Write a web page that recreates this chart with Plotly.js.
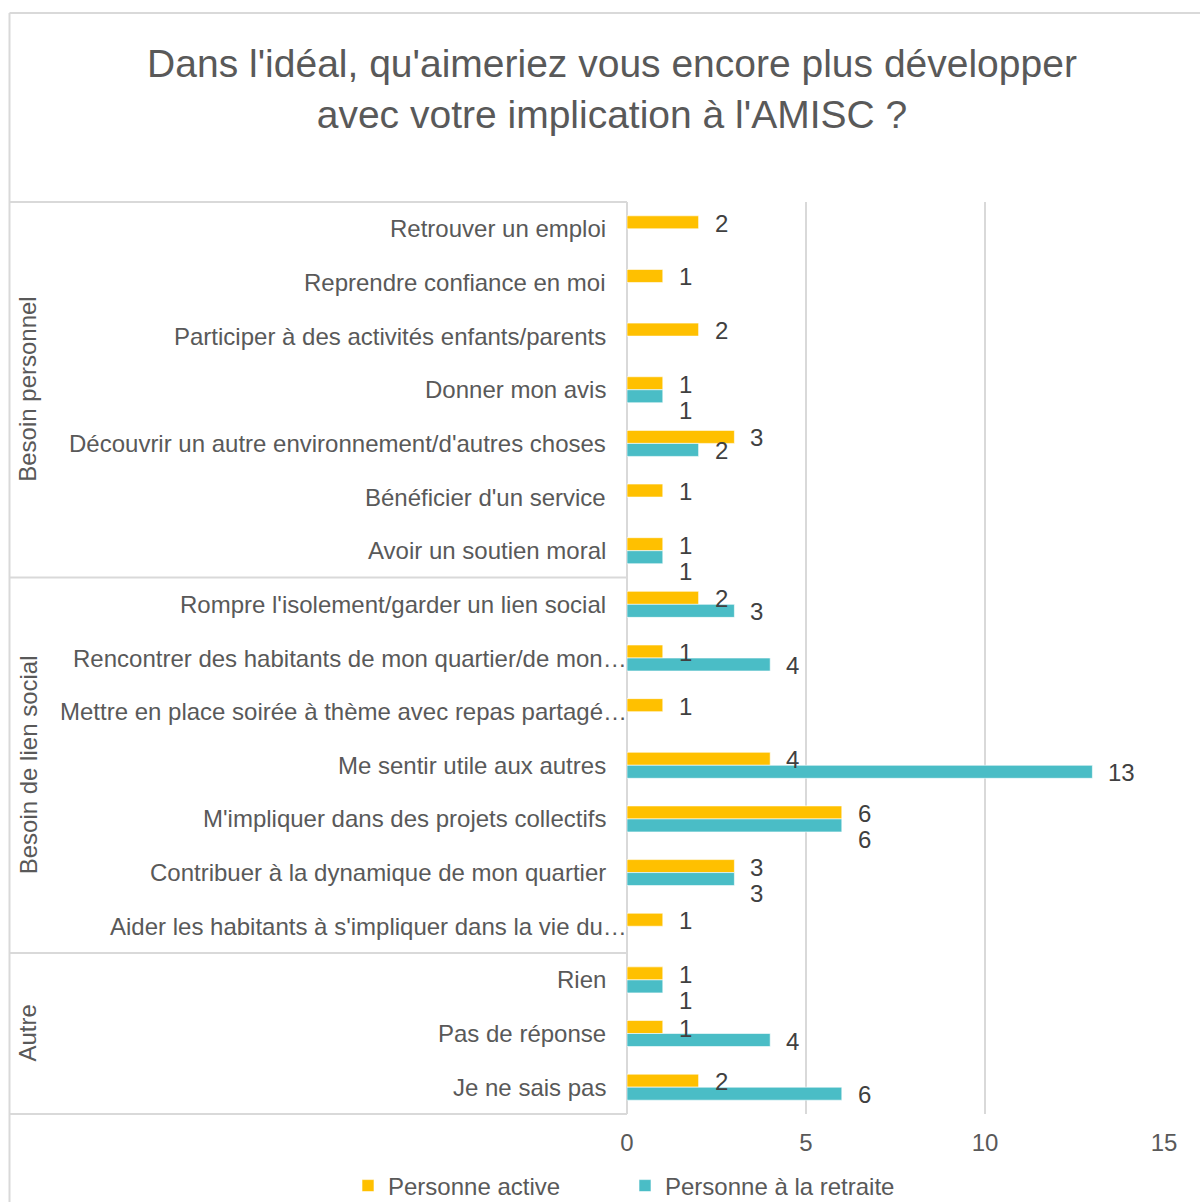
<!DOCTYPE html>
<html>
<head>
<meta charset="utf-8">
<script src="https://cdn.plot.ly/plotly-3.0.1.min.js"></script>
<style>html,body{margin:0;padding:0;background:#fff;}#chart{width:1200px;height:1202px;}</style>
</head>
<body>
<div id="chart"></div>
<script>
const titleText = "Dans l'idéal, qu'aimeriez vous encore plus développer<br>avec votre implication à l'AMISC ?";
const categories = [
  "Retrouver un emploi",
  "Reprendre confiance en moi",
  "Participer à des activités enfants/parents",
  "Donner mon avis",
  "Découvrir un autre environnement/d'autres choses",
  "Bénéficier d'un service",
  "Avoir un soutien moral",
  "Rompre l'isolement/garder un lien social",
  "Rencontrer des habitants de mon quartier/de mon…",
  "Mettre en place soirée à thème avec repas partagé…",
  "Me sentir utile aux autres",
  "M'impliquer dans des projets collectifs",
  "Contribuer à la dynamique de mon quartier",
  "Aider les habitants à s'impliquer dans la vie du…",
  "Rien",
  "Pas de réponse",
  "Je ne sais pas"
];
const groups = ["Besoin personnel", "Besoin de lien social", "Autre"];
const groupSizes = [7, 7, 3];
const seriesNames = ["Personne active", "Personne à la retraite"];
const active   = [2, 1, 2, 1, 3, 1, 1, 2, 1, 1, 4, 6, 3, 1, 1, 1, 2];
const retraite = [null, null, null, 1, 2, null, 1, 3, 4, null, 13, 6, 3, null, 1, 4, 6];
const xTicks = [0, 5, 10, 15];

const FONT = "Liberation Sans, Arial, sans-serif";
const GREY = "#595959";
const LINE = "#d9d9d9";
const FS = 24;
const N = categories.length;

const traces = [
  {type: "bar", orientation: "h", name: seriesNames[0], y: categories, x: active,
   marker: {color: "#FFC000", line: {color: "#ffffff", width: 0.6}}},
  {type: "bar", orientation: "h", name: seriesNames[1], y: categories, x: retraite,
   marker: {color: "#4ABDC6", line: {color: "#ffffff", width: 0.6}}}
];

const annotations = [];
categories.forEach((c, i) => {
  // category label (truncated labels run up to the axis, as in the original)
  annotations.push({xref: "paper", yref: "y", x: 0, y: c, text: c, showarrow: false,
    xanchor: "right", yanchor: "middle", xshift: c.endsWith("…") ? 2 : -19, yshift: 0,
    font: {family: FONT, size: FS, color: GREY}});
  if (active[i] != null) {
    annotations.push({xref: "x", yref: "y", x: active[i], y: c, text: String(active[i]),
      showarrow: false, xanchor: "left", xshift: 14, yshift: 5.5,
      font: {family: FONT, size: FS, color: "#404040"}});
  }
  if (retraite[i] != null) {
    const same = active[i] === retraite[i];
    annotations.push({xref: "x", yref: "y", x: retraite[i], y: c, text: String(retraite[i]),
      showarrow: false, xanchor: "left", xshift: 14, yshift: same ? -21 : -7.5,
      font: {family: FONT, size: FS, color: "#404040"}});
  }
});

// plot area geometry (px) for paper conversions
const L = 627, R = 1164, T = 202, B = 1114;
const pw = R - L, ph = B - T;
const px2x = p => (p - L) / pw;
const px2y = p => (B - p) / ph;
const idx2y = v => (N - 0.5 - v) / N;

const shapes = [];
// frame
shapes.push({type: "line", xref: "paper", yref: "paper", x0: px2x(9.5), x1: px2x(1200), y0: px2y(13), y1: px2y(13), line: {color: LINE, width: 2}});
shapes.push({type: "line", xref: "paper", yref: "paper", x0: px2x(9.5), x1: px2x(9.5), y0: px2y(13), y1: px2y(1202), line: {color: LINE, width: 2}});
// group separators and labels
let start = 0;
const bounds = [-0.5];
groupSizes.forEach((s, g) => {
  const end = start + s;
  bounds.push(end - 0.5);
  annotations.push({xref: "paper", yref: "paper", x: px2x(28), y: idx2y((start + end - 1) / 2),
    text: groups[g], textangle: -90, showarrow: false, xanchor: "center", yanchor: "middle",
    font: {family: FONT, size: FS, color: GREY}});
  start = end;
});
bounds.forEach(b => {
  shapes.push({type: "line", xref: "paper", yref: "paper", x0: px2x(10), x1: 0,
    y0: idx2y(b), y1: idx2y(b), line: {color: LINE, width: 2}});
});

const layout = {
  width: 1200, height: 1202,
  margin: {l: L, r: 1200 - R, t: T, b: 1202 - B, pad: 0, autoexpand: false},
  paper_bgcolor: "#ffffff", plot_bgcolor: "#ffffff",
  font: {family: FONT, color: GREY, size: FS},
  title: {text: titleText, xref: "container", yref: "container", x: 0.51, xanchor: "center",
          y: 0.936, yanchor: "top", automargin: false, font: {family: FONT, size: 39, color: GREY}},
  barmode: "group", bargap: 0.515, bargroupgap: 0,
  xaxis: {range: [0, 15], tickvals: xTicks, ticktext: xTicks.map(String), showgrid: true,
          gridcolor: LINE, gridwidth: 2, zeroline: true, zerolinecolor: LINE, zerolinewidth: 2,
          showline: false, ticks: "", ticklabelstandoff: 12, automargin: false,
          tickfont: {family: FONT, size: FS, color: GREY}, fixedrange: true},
  yaxis: {type: "category", categoryorder: "array", categoryarray: categories,
          range: [N - 0.5, -0.5], showgrid: false, zeroline: false, showline: false,
          ticks: "", showticklabels: false, automargin: false, fixedrange: true},
  showlegend: true,
  legend: {orientation: "h", x: px2x(348), xanchor: "left", y: px2y(1186), yanchor: "middle",
           font: {family: FONT, size: FS, color: GREY}, entrywidth: 232, entrywidthmode: "pixels",
           traceorder: "normal", bgcolor: "rgba(0,0,0,0)"},
  annotations: annotations,
  shapes: shapes
};

Plotly.newPlot("chart", traces, layout, {displayModeBar: false, staticPlot: true});
</script>
</body>
</html>
